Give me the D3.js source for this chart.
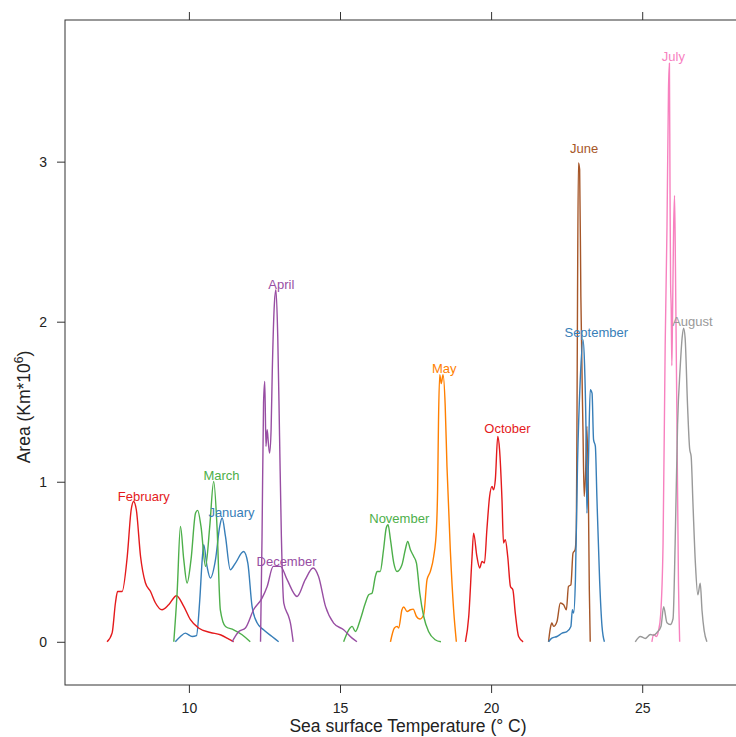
<!DOCTYPE html>
<meta charset="utf-8" />
<title>Sea surface temperature by month</title>
<style>
  body { margin: 0; background: #fff; }
  svg { display: block; }
  text { font-family: "Liberation Sans", Arial, sans-serif; }
  .frame { fill: none; stroke: #333; stroke-width: 1px; }
  .ticklab { font-size: 14px; fill: #222; }
  .title { font-size: 17.5px; fill: #222; }
  .curve { fill: none; stroke-width: 1.4px; stroke-linejoin: round; }
  .mlabel { font-size: 13px; }
</style>

<body>
  <svg width="736" height="737"></svg>

  <script src="https://d3js.org/d3.v7.min.js"></script>
  <script>
    // Months, colours and label anchors (temperature, area)
    const months = ["January", "February", "March", "April", "May", "June",
      "July", "August", "September", "October", "November", "December"];
    const monthColors = ["#377EB8", "#E41A1C", "#4DAF4A", "#984EA3", "#FF7F00", "#A65628",
      "#F781BF", "#999999", "#377EB8", "#E41A1C", "#4DAF4A", "#984EA3"];
    const labelT = [11.41, 8.51, 11.08, 13.06, 18.45, 23.08, 26.03, 26.66, 23.48, 20.54, 16.96, 13.23];
    const labelA = [0.81, 0.91, 1.04, 2.23, 1.71, 3.08, 3.66, 2.0, 1.93, 1.33, 0.77, 0.5];

    // Density curves: temperature (°C) and area (Km*10^6)
    const janT = [9.55, 9.72, 9.88, 10.11, 10.25, 10.36, 10.44, 10.49, 10.60, 10.71, 10.88, 11.02, 11.10, 11.21, 11.37, 11.54, 11.81, 11.95, 12.09, 12.26, 12.47, 12.75, 12.97];
    const janA = [0, 0.033, 0.054, 0.033, 0.038, 0.263, 0.513, 0.606, 0.471, 0.398, 0.513, 0.721, 0.773, 0.658, 0.450, 0.492, 0.564, 0.492, 0.221, 0.117, 0.075, 0.033, 0];

    const febT = [7.29, 7.46, 7.57, 7.64, 7.79, 7.96, 8.09, 8.17, 8.26, 8.40, 8.56, 8.73, 8.89, 9.11, 9.33, 9.59, 9.83, 10.05, 10.32, 10.71, 11.04, 11.32, 11.48];
    const febA = [0, 0.056, 0.244, 0.314, 0.314, 0.533, 0.825, 0.877, 0.825, 0.533, 0.369, 0.314, 0.244, 0.200, 0.231, 0.288, 0.221, 0.138, 0.086, 0.058, 0.044, 0.017, 0];

    const marT = [9.50, 9.61, 9.72, 9.83, 9.94, 10.07, 10.22, 10.29, 10.40, 10.55, 10.69, 10.82, 10.93, 11.04, 11.21, 11.48, 11.76, 12.03];
    const marA = [0, 0.306, 0.721, 0.513, 0.367, 0.513, 0.804, 0.821, 0.721, 0.471, 0.721, 1.002, 0.721, 0.200, 0.096, 0.075, 0.044, 0];

    const aprT = [12.37, 12.42, 12.47, 12.51, 12.55, 12.59, 12.63, 12.67, 12.72, 12.76, 12.83, 12.88, 12.94, 13.00, 13.06, 13.14, 13.30, 13.36, 13.45];
    const aprA = [0, 0.658, 1.492, 1.627, 1.221, 1.325, 1.242, 1.179, 1.325, 1.700, 2.117, 2.200, 1.908, 1.283, 0.658, 0.242, 0.158, 0.117, 0];

    const mayT = [16.67, 16.80, 16.89, 16.94, 17.05, 17.11, 17.22, 17.33, 17.42, 17.53, 17.64, 17.77, 17.88, 17.99, 18.10, 18.19, 18.23, 18.26, 18.30, 18.35, 18.41, 18.48, 18.54, 18.65, 18.76, 18.85];
    const mayA = [0, 0.086, 0.096, 0.086, 0.200, 0.217, 0.189, 0.200, 0.204, 0.158, 0.142, 0.169, 0.388, 0.440, 0.533, 0.700, 0.950, 1.388, 1.669, 1.613, 1.669, 1.480, 1.094, 0.575, 0.200, 0];

    const junT = [21.90, 21.96, 22.01, 22.07, 22.18, 22.29, 22.40, 22.49, 22.56, 22.64, 22.71, 22.78, 22.82, 22.84, 22.86, 22.89, 22.93, 22.97, 23.04, 23.08, 23.13, 23.17, 23.22, 23.25, 23.28];
    const junA = [0, 0.086, 0.117, 0.096, 0.127, 0.242, 0.231, 0.200, 0.346, 0.356, 0.554, 0.575, 0.700, 1.325, 2.158, 2.992, 2.950, 2.158, 1.325, 0.908, 1.075, 1.346, 0.888, 0.325, 0];

    const julT = [25.32, 25.38, 25.47, 25.54, 25.61, 25.69, 25.76, 25.82, 25.87, 25.90, 25.92, 25.94, 25.96, 25.98, 26.00, 26.04, 26.07, 26.10, 26.15, 26.20, 26.24];
    const julA = [0, 0.046, 0.033, 0.070, 0.169, 0.614, 1.850, 2.590, 3.454, 3.615, 2.838, 2.231, 2.083, 1.725, 1.975, 2.590, 2.788, 2.344, 1.356, 0.369, 0];

    const augT = [24.77, 24.94, 25.10, 25.27, 25.38, 25.49, 25.62, 25.71, 25.82, 25.93, 26.02, 26.09, 26.17, 26.26, 26.32, 26.37, 26.42, 26.50, 26.57, 26.62, 26.68, 26.76, 26.84, 26.92, 26.98, 27.05, 27.14];
    const augA = [0, 0.033, 0.021, 0.046, 0.041, 0.058, 0.095, 0.219, 0.119, 0.108, 0.144, 0.614, 1.356, 1.725, 1.898, 1.960, 1.898, 1.478, 1.206, 1.157, 0.861, 0.490, 0.293, 0.366, 0.194, 0.070, 0];

    const sepT = [21.90, 22.01, 22.18, 22.35, 22.51, 22.64, 22.69, 22.73, 22.79, 22.86, 22.95, 23.04, 23.09, 23.14, 23.17, 23.22, 23.28, 23.34, 23.39, 23.45, 23.50, 23.59, 23.67, 23.75];
    const sepA = [0, 0.023, 0.033, 0.054, 0.064, 0.096, 0.200, 0.179, 0.388, 1.117, 1.638, 1.888, 1.742, 1.325, 0.804, 1.117, 1.575, 1.554, 1.263, 1.221, 0.908, 0.388, 0.096, 0];

    const octT = [19.15, 19.26, 19.37, 19.42, 19.53, 19.62, 19.70, 19.78, 19.86, 19.95, 20.03, 20.08, 20.14, 20.22, 20.28, 20.36, 20.41, 20.47, 20.55, 20.64, 20.72, 20.80, 20.91, 21.06];
    const octA = [0, 0.158, 0.533, 0.679, 0.533, 0.461, 0.502, 0.492, 0.700, 0.908, 0.971, 0.950, 1.013, 1.283, 1.200, 0.888, 0.617, 0.638, 0.533, 0.346, 0.325, 0.179, 0.033, 0];

    const novT = [15.12, 15.29, 15.40, 15.51, 15.67, 15.84, 15.95, 16.06, 16.17, 16.23, 16.33, 16.44, 16.53, 16.59, 16.67, 16.78, 16.89, 17.05, 17.16, 17.24, 17.33, 17.44, 17.53, 17.64, 17.77, 17.93, 18.15, 18.34];
    const novA = [0, 0.075, 0.096, 0.064, 0.138, 0.242, 0.294, 0.304, 0.408, 0.439, 0.439, 0.575, 0.711, 0.731, 0.638, 0.492, 0.439, 0.481, 0.575, 0.627, 0.575, 0.533, 0.492, 0.304, 0.158, 0.064, 0.013, 0];

    const decT = [11.43, 11.65, 11.87, 12.14, 12.42, 12.59, 12.79, 13.03, 13.25, 13.58, 13.85, 14.11, 14.29, 14.52, 14.79, 15.12, 15.40, 15.56];
    const decA = [0, 0.064, 0.086, 0.200, 0.273, 0.346, 0.471, 0.471, 0.388, 0.283, 0.388, 0.461, 0.408, 0.221, 0.117, 0.075, 0.023, 0];

    const seriesT = [janT, febT, marT, aprT, mayT, junT, julT, augT, sepT, octT, novT, decT];
    const seriesA = [janA, febA, marA, aprA, mayA, junA, julA, augA, sepA, octA, novA, decA];

    const xTicks = [10, 15, 20, 25];
    const yTicks = [0, 1, 2, 3];

    const svg = d3.select("svg");
    const pLeft = 65, pTop = 20, pRight = 751, pBottom = 685;

    const x = d3.scaleLinear().domain([5.9, 28.6]).range([pLeft, pRight]);
    const y = d3.scaleLinear().domain([-0.27, 3.885]).range([pBottom, pTop]);

    // panel frame
    svg.append("rect")
      .attr("class", "frame")
      .attr("x", pLeft).attr("y", pTop)
      .attr("width", pRight - pLeft).attr("height", pBottom - pTop);

    // bottom axis with labels, top axis ticks only
    const xb = svg.append("g").attr("transform", `translate(0,${pBottom})`)
      .call(d3.axisBottom(x).tickValues(xTicks).tickSize(8).tickPadding(10).tickFormat(d3.format("d")));
    const xt = svg.append("g").attr("transform", `translate(0,${pTop})`)
      .call(d3.axisTop(x).tickValues(xTicks).tickSize(8).tickFormat(""));
    const yl = svg.append("g").attr("transform", `translate(${pLeft},0)`)
      .call(d3.axisLeft(y).tickValues(yTicks).tickSize(8).tickPadding(10).tickFormat(d3.format("d")));

    [xb, xt, yl].forEach(g => {
      g.select(".domain").remove();
      g.selectAll(".tick line").attr("stroke", "#333");
      g.selectAll("text").attr("class", "ticklab").attr("fill", "#222")
        .style("font-family", '"Liberation Sans", Arial, sans-serif').style("font-size", "14px");
    });

    // curves
    const line = d3.line()
      .x(d => x(d[0]))
      .y(d => y(d[1]))
      .curve(d3.curveMonotoneX);

    svg.append("clipPath").attr("id", "panel")
      .append("rect").attr("x", pLeft).attr("y", pTop)
      .attr("width", pRight - pLeft).attr("height", pBottom - pTop);

    svg.append("g").attr("clip-path", "url(#panel)")
      .selectAll("path.curve")
      .data(months)
      .enter()
      .append("path")
      .attr("class", "curve")
      .attr("stroke", (d, i) => monthColors[i])
      .attr("d", (d, i) => line(seriesT[i].map((t, j) => [t, seriesA[i][j]])));

    // month labels
    svg.selectAll("text.mlabel")
      .data(months)
      .enter()
      .append("text")
      .attr("class", "mlabel")
      .attr("x", (d, i) => x(labelT[i]))
      .attr("y", (d, i) => y(labelA[i]))
      .attr("dy", "0.35em")
      .attr("text-anchor", "middle")
      .attr("fill", (d, i) => monthColors[i])
      .text(d => d);

    // axis titles
    svg.append("text")
      .attr("class", "title")
      .attr("x", (pLeft + pRight) / 2)
      .attr("y", 732)
      .attr("text-anchor", "middle")
      .text("Sea surface Temperature (° C)");

    const yt = svg.append("text")
      .attr("class", "title")
      .attr("transform", "translate(30,407) rotate(-90)")
      .attr("text-anchor", "middle");
    yt.append("tspan").text("Area (Km*10");
    yt.append("tspan").attr("dy", -7).style("font-size", "12px").text("6");
    yt.append("tspan").attr("dy", 7).text(")");
  </script>
</body>
